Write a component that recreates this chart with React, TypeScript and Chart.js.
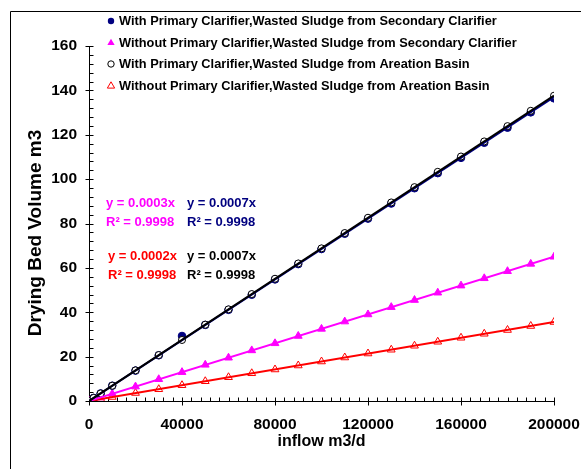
import React, { useEffect, useRef } from 'react';
import { Chart, registerables } from 'chart.js';
Chart.register(...registerables);

const inflow = [0, 2000, 5000, 10000, 20000, 30000, 40000, 50000, 60000, 70000, 80000, 90000, 100000, 110000, 120000, 130000, 140000, 150000, 160000, 170000, 180000, 190000, 200000];
const withPrimarySecondary = [0, 1.4, 3.4, 6.9, 13.7, 20.6, 29.3, 34.3, 41.1, 47.9, 54.8, 61.7, 68.5, 75.4, 82.2, 89.0, 95.9, 102.7, 109.6, 116.4, 123.2, 130.1, 136.4];
const withoutPrimarySecondary = [0, 0.6, 1.6, 3.3, 6.5, 9.8, 13.0, 16.3, 19.5, 22.8, 26.0, 29.3, 32.5, 35.8, 39.0, 42.3, 45.5, 48.8, 52.0, 55.3, 58.5, 61.8, 65.0];
const withPrimaryAeration = [0, 1.4, 3.4, 6.9, 13.8, 20.7, 27.5, 34.4, 41.3, 48.2, 55.1, 62.0, 68.8, 75.7, 82.6, 89.5, 96.4, 103.3, 110.2, 117.0, 123.9, 130.8, 137.6];
const withoutPrimaryAeration = [0, 0.4, 0.9, 1.8, 3.6, 5.3, 7.1, 8.9, 10.7, 12.5, 14.2, 16.0, 17.8, 19.6, 21.4, 23.1, 24.9, 26.7, 28.5, 30.3, 32.0, 33.8, 35.6];

const seriesNames = [
  'With Primary Clarifier,Wasted Sludge from Secondary Clarifier',
  'Without Primary Clarifier,Wasted Sludge from Secondary Clarifier',
  'With Primary Clarifier,Wasted Sludge from Areation Basin',
  'Without Primary Clarifier,Wasted Sludge from Areation Basin',
];
const equationLabels = ['y = 0.0007x', 'y = 0.0003x', 'y = 0.0007x', 'y = 0.0002x'];
const r2Labels = ['R² = 0.9998', 'R² = 0.9998', 'R² = 0.9998', 'R² = 0.9998'];
const xTitle = 'inflow m3/d';
const yTitle = 'Drying Bed Volume m3';
const xRange = [0, 200000];
const yRange = [0, 160];

const NAVY = '#000080';
const MAGENTA = '#FF00FF';
const RED = '#FF0000';
const BLACK = '#000000';
const FONT = "'Liberation Sans', Arial, sans-serif";

function slope(xs: number[], ys: number[]) {
  let sxy = 0, sxx = 0;
  for (let i = 0; i < xs.length; i++) { sxy += xs[i] * ys[i]; sxx += xs[i] * xs[i]; }
  return sxy / sxx;
}
function trend(ys: number[]) {
  const k = slope(inflow, ys);
  return xRange.map((x) => ({ x, y: k * x }));
}
function pts(ys: number[]) {
  return inflow.map((x, i) => ({ x, y: ys[i] }));
}

function drawMarker(ctx: CanvasRenderingContext2D, kind: string, x: number, y: number, color: string, filled: boolean) {
  ctx.save();
  ctx.beginPath();
  if (kind === 'circle') {
    ctx.arc(x, y, 3.2, 0, Math.PI * 2);
  } else {
    const r = 4.2;
    ctx.moveTo(x, y - r);
    ctx.lineTo(x + r * 0.87, y + r * 0.5);
    ctx.lineTo(x - r * 0.87, y + r * 0.5);
    ctx.closePath();
  }
  if (filled) { ctx.fillStyle = color; ctx.fill(); }
  else { ctx.fillStyle = '#fff'; ctx.fill(); ctx.lineWidth = 1; ctx.strokeStyle = color; ctx.stroke(); }
  ctx.restore();
}

const decor = {
  id: 'decor',
  beforeDraw(chart: any) {
    const { ctx, width, height } = chart;
    ctx.save();
    ctx.fillStyle = '#fff';
    ctx.fillRect(0, 0, width, height);
    ctx.restore();
  },
  beforeDatasetsDraw(chart: any) {
    const { ctx, chartArea, scales } = chart;
    const { left, right, top, bottom } = chartArea;
    const x = scales.x, y = scales.y;
    ctx.save();
    ctx.strokeStyle = '#000';
    ctx.lineWidth = 1;
    // outer frame
    ctx.beginPath();
    ctx.moveTo(10.5, chart.height);
    ctx.lineTo(10.5, 11.5);
    ctx.lineTo(chart.width, 11.5);
    ctx.stroke();
    // axes
    const ax = Math.round(left) + 0.5;
    const ay = Math.round(bottom) + 0.5;
    ctx.beginPath();
    ctx.moveTo(ax, top);
    ctx.lineTo(ax, ay);
    ctx.lineTo(right, ay);
    ctx.stroke();
    ctx.beginPath();
    for (let v = yRange[0]; v <= yRange[1]; v += 4) {
      const py = Math.round(y.getPixelForValue(v)) + 0.5;
      if (v % 20 === 0) { ctx.moveTo(ax - 4, py); ctx.lineTo(ax + 4, py); }
      else { ctx.moveTo(ax, py); ctx.lineTo(ax + 4, py); }
    }
    for (let v = xRange[0]; v <= xRange[1]; v += 4000) {
      const px = Math.round(x.getPixelForValue(v)) + 0.5;
      if (v % 40000 === 0) { ctx.moveTo(px, ay - 4); ctx.lineTo(px, ay + 4); }
      else { ctx.moveTo(px, ay - 4); ctx.lineTo(px, ay); }
    }
    ctx.stroke();
    ctx.restore();
  },
  afterDraw(chart: any) {
    const { ctx, chartArea } = chart;
    ctx.save();
    ctx.fillStyle = '#000';
    ctx.font = `bold 16px ${FONT}`;
    ctx.textAlign = 'center';
    ctx.textBaseline = 'middle';
    ctx.fillText(xTitle, (chartArea.left + chartArea.right) / 2, 442);
    ctx.save();
    ctx.font = `bold 19px ${FONT}`;
    ctx.translate(36, 233);
    ctx.rotate(-Math.PI / 2);
    ctx.fillText(yTitle, 0, 0);
    ctx.restore();

    // legend
    const kinds = ['circle', 'triangle', 'circle', 'triangle'];
    const colors = [NAVY, MAGENTA, BLACK, RED];
    const filled = [true, true, false, false];
    const rowsY = [21, 43, 64, 86];
    ctx.font = `bold 12.8px ${FONT}`;
    ctx.textAlign = 'left';
    for (let i = 0; i < 4; i++) {
      drawMarker(ctx, kinds[i], 111, rowsY[i], colors[i], filled[i]);
      ctx.fillStyle = '#000';
      ctx.fillText(seriesNames[i], 119, rowsY[i] + 0.5);
    }

    // trendline equations
    const eqPos = [
      [187, 203, NAVY],
      [106, 203, MAGENTA],
      [187, 256, BLACK],
      [108, 256, RED],
    ];
    ctx.font = `bold 13px ${FONT}`;
    for (let i = 0; i < 4; i++) {
      const [ex, ey, c] = eqPos[i] as [number, number, string];
      ctx.fillStyle = c;
      ctx.fillText(equationLabels[i], ex, ey);
      ctx.fillText(r2Labels[i], ex, ey + 19);
    }
    ctx.restore();
  },
};

export default function App() {
  const ref = useRef<HTMLCanvasElement>(null);
  useEffect(() => {
    if (!ref.current) return;
    const lineDs = (ys: number[], color: string) => ({
      data: trend(ys),
      showLine: true,
      borderColor: color,
      borderWidth: 2,
      pointRadius: 0,
      fill: false,
    });
    const chart = new Chart(ref.current, {
      type: 'scatter',
      data: {
        datasets: [
          lineDs(withPrimaryAeration, BLACK),
          lineDs(withPrimarySecondary, NAVY),
          lineDs(withoutPrimarySecondary, MAGENTA),
          lineDs(withoutPrimaryAeration, RED),
          { data: pts(withPrimaryAeration), pointStyle: 'circle', pointRadius: 3.5, backgroundColor: '#fff', borderColor: BLACK, borderWidth: 1 },
          { data: pts(withPrimarySecondary), pointStyle: 'circle', pointRadius: 3.8, backgroundColor: NAVY, borderColor: NAVY, borderWidth: 1 },
          { data: pts(withoutPrimarySecondary), pointStyle: 'triangle', pointRadius: 4.5, backgroundColor: MAGENTA, borderColor: MAGENTA, borderWidth: 1 },
          { data: pts(withoutPrimaryAeration), pointStyle: 'triangle', pointRadius: 4.5, backgroundColor: '#fff', borderColor: RED, borderWidth: 1 },
        ] as any,
      },
      options: {
        animation: false,
        responsive: false,
        devicePixelRatio: 1,
        layout: { padding: { left: 0, top: 46, right: 27, bottom: 0 } },
        plugins: { legend: { display: false }, tooltip: { enabled: false } },
        scales: {
          x: {
            type: 'linear',
            min: xRange[0],
            max: xRange[1],
            grid: { display: false, drawTicks: false },
            border: { display: false },
            ticks: {
              stepSize: 40000,
              color: '#000',
              font: { family: FONT, size: 15.5, weight: 'bold' },
              padding: 14,
              maxRotation: 0,
              callback: (v: any) => String(v),
            },
            afterFit: (s: any) => { s.height = 68; s.paddingLeft = 0; s.paddingRight = 0; },
          },
          y: {
            type: 'linear',
            min: yRange[0],
            max: yRange[1],
            grid: { display: false, drawTicks: false },
            border: { display: false },
            ticks: {
              stepSize: 20,
              color: '#000',
              font: { family: FONT, size: 15.5, weight: 'bold' },
              padding: 12,
              callback: (v: any) => String(v),
            },
            afterFit: (s: any) => { s.width = 89; s.paddingTop = 0; s.paddingBottom = 0; },
          },
        },
      } as any,
      plugins: [decor],
    });
    return () => chart.destroy();
  }, []);
  return (
    <div style={{ position: 'absolute', left: 0, top: 0, width: 581, height: 469, background: '#fff' }}>
      <canvas ref={ref} width={581} height={469} style={{ display: 'block', width: 581, height: 469 }} />
    </div>
  );
}
